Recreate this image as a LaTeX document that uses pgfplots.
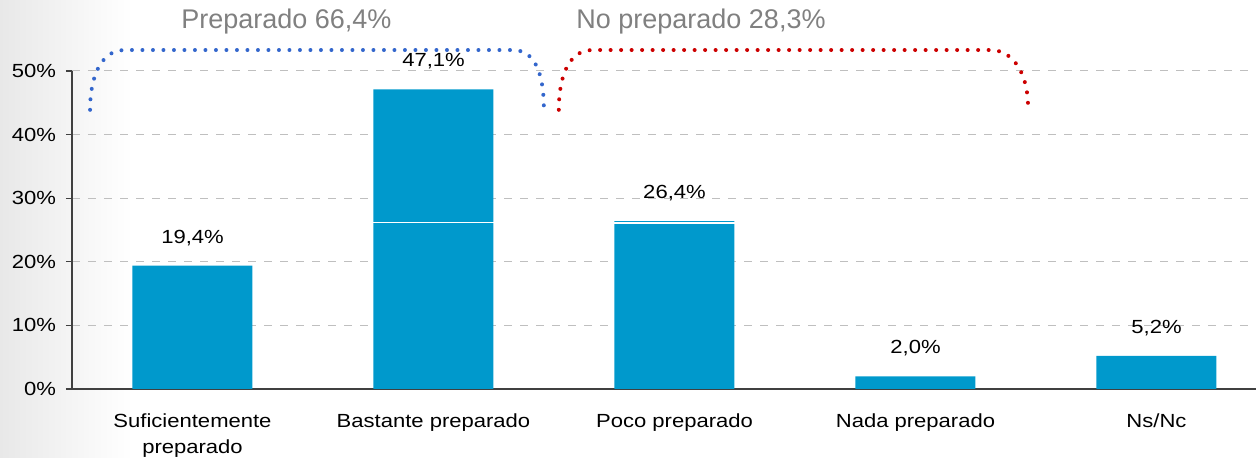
\documentclass[border=0pt]{standalone}
\usepackage{pgfplots}
\pgfplotsset{compat=1.18}
\usepackage{fontspec}
\setmainfont{Liberation Sans}
\newfontfamily\widefont{Liberation Sans}[FakeStretch=1.16]
\definecolor{barblue}{HTML}{0099CC}
\definecolor{dotblue}{HTML}{3366CC}
\definecolor{dotred}{HTML}{CC0000}
\definecolor{axgray}{HTML}{404040}
\definecolor{gridgray}{HTML}{BFBFBF}
\definecolor{titlegray}{HTML}{808080}
\begin{document}
\begin{tikzpicture}
\useasboundingbox (-36pt,-34.5pt) rectangle (592pt,194.5pt);
\shade[left color=black!9, right color=white] (-36pt,-34.5pt) rectangle (30pt,194.5pt);
\begin{axis}[
  at={(0,0)}, anchor=south west,
  scale only axis, width=592pt, height=159pt,
  xmin=-0.5, xmax=4.413, ymin=0, ymax=50,
  clip=false,
  axis x line=bottom, axis y line=left,
  axis line style={draw=axgray, line width=0.6pt, -},
  every tick/.style={draw=axgray, line width=0.6pt},
  tick align=outside, major tick length=3pt,
  font=\widefont\fontsize{9.5}{13}\selectfont,
  /pgf/number format/assume math mode=true,
  ytick={0,10,...,50},
  yticklabel={\pgfmathprintnumber{\tick}\%},
  yticklabel style={xshift=-1.5pt},
  ymajorgrids,
  major grid style={draw=gridgray, dash pattern=on 4pt off 4pt, line width=0.5pt},
  xtick={0,1,2,3,4},
  xticklabels={Suficientemente\\preparado, Bastante preparado, Poco preparado, Nada preparado, Ns/Nc},
  xticklabel style={align=center, yshift=-6pt},
  x tick style={draw=none},
  extra x ticks={0.5,1.5,2.5,3.5},
  extra x tick labels={},
  extra x tick style={tick style={draw=axgray, line width=0.6pt}, grid=none},
  bar width=60pt,
  nodes near coords={\pgfmathprintnumber[fixed,fixed zerofill,precision=1,use comma]{\pgfplotspointmeta}\%},
  every node near coord/.append style={font=\widefont\fontsize{9.5}{12}\selectfont, yshift=6.5pt, text=black},
]
\addplot[ybar, fill=barblue, draw=none] coordinates {(0,19.4) (1,47.1) (2,26.4) (3,2.0) (4,5.2)};
% thin white lines inside bars (as in original)
\draw[white, line width=0.6pt] (axis cs:0.75,26.2) -- (axis cs:1.25,26.2);
\draw[white, line width=0.6pt] (axis cs:1.75,26.1) -- (axis cs:2.25,26.1);
% brackets
\draw[dotblue, line width=2pt, line cap=round, dash pattern=on 0pt off 5.25pt]
  (axis cs:-0.425,43.9) to[out=90,in=180] (axis cs:-0.28,53.3) -- (axis cs:1.33,53.3) to[out=0,in=90] (axis cs:1.458,43.9);
\draw[dotred, line width=2pt, line cap=round, dash pattern=on 0pt off 5.25pt]
  (axis cs:1.52,43.9) to[out=90,in=180] (axis cs:1.66,53.3) -- (axis cs:3.31,53.3) to[out=0,in=90] (axis cs:3.467,44.5);
\node[text=titlegray, font=\fontsize{13.5}{16}\selectfont] at (axis cs:0.39,57.8) {Preparado 66,4\%};
\node[text=titlegray, font=\fontsize{13.5}{16}\selectfont] at (axis cs:2.11,57.8) {No preparado 28,3\%};
\end{axis}
\end{tikzpicture}
\end{document}
